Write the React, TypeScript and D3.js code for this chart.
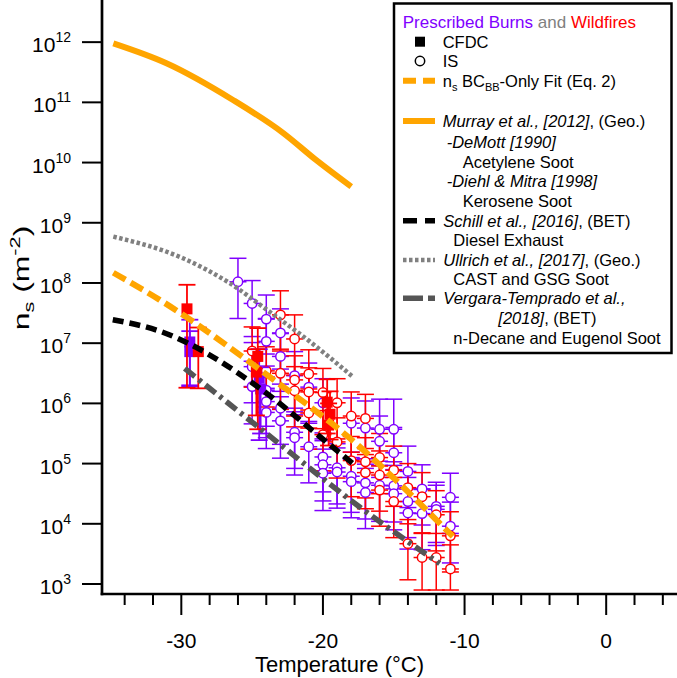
import React from 'react';
import * as d3 from 'd3';

const W = 677;
const H = 678;
const FONT = '"Liberation Sans", Arial, Helvetica, sans-serif';

const xDomain = [-35.6, 5];
const yDomainExp = [2.834, 12.7];

const xMajorTicks = [-30, -20, -10, 0];
const xMinorTicks = [-34, -32, -28, -26, -24, -22, -18, -16, -14, -12, -8, -6, -4, -2, 2, 4];
const yTickExponents = [3, 4, 5, 6, 7, 8, 9, 10, 11, 12];

// IS measurements: [T (°C), log10 ns, error up (decades), error down (decades)]
const isPurple: number[][] = [
  [-26, 8.02, 0.39, 0.61],
  [-25, 7.66, 0.38, 0.55], [-25, 6.61, 0.4, 0.6], [-25, 6.28, 0.42, 0.62],
  [-24, 7.4, 0.4, 0.58], [-24, 7.03, 0.38, 0.6], [-24, 6.22, 0.4, 0.6], [-24, 6.03, 0.41, 0.6], [-24, 5.85, 0.4, 0.6],
  [-23, 7.17, 0.4, 0.6], [-23, 6.78, 0.38, 0.58], [-23, 5.92, 0.4, 0.6], [-23, 5.71, 0.4, 0.62],
  [-22, 6.46, 0.4, 0.6], [-22, 5.52, 0.4, 0.6], [-22, 5.43, 0.38, 0.62],
  [-21, 6.27, 0.4, 0.6], [-21, 5.28, 0.42, 0.6],
  [-20, 6.01, 0.4, 0.6], [-20, 5.11, 0.4, 0.58], [-20, 4.98, 0.4, 0.6], [-20, 4.84, 0.4, 0.62],
  [-19, 4.93, 0.4, 0.6], [-19, 4.86, 0.4, 0.6],
  [-18, 5.67, 0.42, 0.6], [-18, 4.79, 0.4, 0.6], [-18, 4.7, 0.4, 0.6],
  [-17, 5.59, 0.45, 0.6], [-17, 4.68, 0.4, 0.6], [-17, 4.52, 0.4, 0.6],
  [-16, 5.57, 0.5, 0.6], [-16, 5.37, 0.42, 0.6], [-16, 4.64, 0.4, 0.6],
  [-15, 5.57, 0.5, 0.6], [-15, 5.18, 0.42, 0.6], [-15, 4.63, 0.4, 0.6], [-15, 4.5, 0.4, 0.6],
  [-14, 4.87, 0.42, 0.6], [-14, 4.37, 0.4, 0.6], [-14, 4.18, 0.4, 0.6],
  [-13, 4.58, 0.4, 0.6], [-13, 4.17, 0.4, 0.6],
  [-12, 4.29, 0.4, 0.6], [-12, 4.24, 0.4, 0.6],
  [-11, 4.44, 0.4, 0.6], [-11, 3.96, 0.4, 0.61],
];

const isRed: number[][] = [
  [-25, 6.87, 0.4, 0.6],
  [-24, 6.54, 0.4, 0.6],
  [-23, 7.47, 0.4, 0.6], [-23, 6.5, 0.4, 0.6],
  [-22, 7.07, 0.4, 0.6], [-22, 6.39, 0.4, 0.6], [-22, 6.21, 0.4, 0.6],
  [-21, 6.49, 0.4, 0.6], [-21, 6.19, 0.4, 0.6], [-21, 5.84, 0.4, 0.6],
  [-20, 6.18, 0.4, 0.6], [-20, 5.48, 0.4, 0.6],
  [-19, 6.01, 0.4, 0.6], [-19, 5.36, 0.4, 0.6],
  [-18, 5.79, 0.4, 0.6], [-18, 5.05, 0.4, 0.6],
  [-17, 5.75, 0.4, 0.6], [-17, 5.03, 0.4, 0.6], [-17, 4.85, 0.4, 0.6],
  [-16, 5.1, 0.4, 0.6], [-16, 4.81, 0.4, 0.6], [-16, 4.56, 0.4, 0.6],
  [-15, 4.89, 0.4, 0.6], [-15, 4.37, 0.4, 0.6],
  [-14, 4.6, 0.4, 0.6], [-14, 3.67, 0.4, 0.6],
  [-13, 4.45, 0.4, 0.6], [-13, 3.44, 0.4, 0.54],
  [-12, 4.15, 0.4, 0.6], [-12, 3.44, 0.4, 0.54],
  [-11, 3.8, 0.4, 0.6], [-11, 3.25, 0.4, 0.35],
];

// CFDC measurements: [T, log10 ns, log10 upper, log10 lower]
const cfdcRed: number[][] = [
  [-29.6, 7.57, 7.97, 6.26],
  [-28.8, 6.86, 7.26, 6.25],
  [-24.6, 6.78, 7.25, 5.57],
  [-24.7, 6.52, 6.9, 5.8],
  [-19.7, 6.02, 6.4, 5.5],
  [-19.5, 5.82, 6.2, 5.4],
  [-19.6, 5.64, 6.0, 5.3],
];
const cfdcPurple: number[][] = [
  [-29.4, 7.02, 7.39, 6.28],
  [-29.4, 6.86, 7.2, 6.3],
  [-24.5, 6.42, 6.9, 5.39],
  [-24.4, 6.24, 6.6, 5.5],
];

// Parameterisation curves: temperature and log10 ns
const murrayT = [-34.8, -31.05, -26.35, -22.8, -20.47, -18.0];
const murrayLog = [11.98, 11.65, 11.04, 10.49, 10.04, 9.6];
const fitT = [-34.8, -31.53, -23.76, -18.1, -10.83];
const fitLog = [8.17, 7.72, 6.44, 5.42, 3.79];
const schillT = [-34.84, -31.53, -23.99, -20.23, -17.88];
const schillLog = [7.39, 7.2, 6.17, 5.45, 5.0];
const ullrichT = [-34.8, -29.88, -26.6, -23.76, -20.94, -17.88];
const ullrichLog = [8.77, 8.41, 8.0, 7.52, 7.03, 6.44];
const vergaraT = [-29.76, -23.99, -17.41, -11.76];
const vergaraLog = [6.58, 5.5, 4.28, 3.34];

const PURPLE = '#8000ff';
const RED = '#ff0000';
const ORANGE = '#ffa500';
const GREY = '#808080';
const DARK = '#555555';

export default function App() {
  const left = 102, right = 677, top = 0, bottom = 594;
  const x = d3.scaleLinear().domain(xDomain).range([left, right]);
  const y = d3.scaleLog().domain([Math.pow(10, yDomainExp[0]), Math.pow(10, yDomainExp[1])]).range([bottom, top]);
  const yl = (l: number) => y(Math.pow(10, l));

  const line = d3.line<number[]>().x(d => x(d[0])).y(d => yl(d[1])).curve(d3.curveMonotoneX);
  const path = (ts: number[], ls: number[]) => line(ts.map((t, i) => [t, ls[i]])) || '';

  const cap = 8.5;
  const xErr = 0.6;

  const bars = (data: number[][], color: string, key: string) =>
    data.map((d, i) => {
      const cx = x(d[0]);
      const yTop = yl(d[1] + d[2]);
      const yBot = yl(d[1] - d[3]);
      const cy = yl(d[1]);
      return (
        <g key={key + i} stroke={color} strokeWidth={1.5}>
          <line x1={cx} x2={cx} y1={yTop} y2={yBot} />
          <line x1={cx - cap} x2={cx + cap} y1={yTop} y2={yTop} />
          <line x1={cx - cap} x2={cx + cap} y1={yBot} y2={yBot} />
          <line x1={x(d[0] - xErr)} x2={x(d[0] + xErr)} y1={cy} y2={cy} />
        </g>
      );
    });
  const circles = (data: number[][], color: string, key: string) =>
    data.map((d, i) => (
      <circle key={key + i} cx={x(d[0])} cy={yl(d[1])} r={4.7} fill="white" stroke={color} strokeWidth={1.5} />
    ));
  const cfdc = (data: number[][], color: string, key: string) =>
    data.map((d, i) => {
      const cx = x(d[0]);
      const yTop = yl(d[2]);
      const yBot = yl(d[3]);
      return (
        <g key={key + i}>
          <g stroke={color} strokeWidth={1.8}>
            <line x1={cx} x2={cx} y1={yTop} y2={yBot} />
            <line x1={cx - cap} x2={cx + cap} y1={yTop} y2={yTop} />
            <line x1={cx - cap} x2={cx + cap} y1={yBot} y2={yBot} />
          </g>
          <rect x={cx - 5.5} y={yl(d[1]) - 5.5} width={11} height={11} fill={color} />
        </g>
      );
    });

  const legX0 = 403, legX1 = 435, legText = 442.7;
  const legFont = 16.5;
  const rowY = (c: number) => c + 5.8;

  return (
    <svg width={W} height={H} style={{ display: 'block', position: 'absolute', left: 0, top: 0 }} fontFamily={FONT}>
      <rect x={0} y={0} width={W} height={H} fill="white" />
      <defs>
        <clipPath id="plot">
          <rect x={left} y={top} width={right - left} height={bottom - top} />
        </clipPath>
      </defs>

      <g clipPath="url(#plot)">
        {bars(isPurple, PURPLE, 'bp')}
        {bars(isRed, RED, 'br')}
        {circles(isPurple, PURPLE, 'cp')}
        {circles(isRed, RED, 'cr')}
        {cfdc(cfdcPurple, PURPLE, 'fp')}
        {cfdc(cfdcRed, RED, 'fr')}

        <path d={path(murrayT, murrayLog)} fill="none" stroke={ORANGE} strokeWidth={6} />
        <path d={path(ullrichT, ullrichLog)} fill="none" stroke={GREY} strokeWidth={4.5} strokeDasharray="3.5 2.5" />
        <path d={path(vergaraT, vergaraLog)} fill="none" stroke={DARK} strokeWidth={5.5} strokeDasharray="13 5 3.5 5" />
        <path d={path(schillT, schillLog)} fill="none" stroke="black" strokeWidth={5.5} strokeDasharray="11 6" />
        <path d={path(fitT, fitLog)} fill="none" stroke={ORANGE} strokeWidth={6} strokeDasharray="14 6" />
      </g>

      {/* axes */}
      <g stroke="black">
        <line x1={left} x2={left} y1={top} y2={bottom + 1.3} strokeWidth={2.7} />
        <line x1={left - 1.3} x2={right} y1={bottom} y2={bottom} strokeWidth={2.7} />
        {xMajorTicks.map(t => (
          <line key={'xM' + t} x1={x(t)} x2={x(t)} y1={bottom} y2={bottom + 21} strokeWidth={2} />
        ))}
        {xMinorTicks.map(t => (
          <line key={'xm' + t} x1={x(t)} x2={x(t)} y1={bottom} y2={bottom + 11} strokeWidth={2} />
        ))}
        {yTickExponents.map(e => (
          <line key={'y' + e} x1={left - 20} x2={left} y1={yl(e)} y2={yl(e)} strokeWidth={2} />
        ))}
      </g>
      {xMajorTicks.map(t => (
        <text key={'xl' + t} x={x(t)} y={648} textAnchor="middle" fontSize={21}>{t === 0 ? '0' : `-${Math.abs(t)}`}</text>
      ))}
      <text x={(left + right) / 2 - 50} y={672} textAnchor="middle" fontSize={22}>Temperature (°C)</text>
      {yTickExponents.map(e => (
        <text key={'yl' + e} x={71} y={yl(e) + 10} textAnchor="end" fontSize={21}>
          10<tspan dy={-10} fontSize={14}>{e}</tspan>
        </text>
      ))}
      <text transform="translate(29,278) rotate(-90) scale(1.45,1)" textAnchor="middle" fontSize={22}>
        n<tspan dy={5} fontSize={15}>s</tspan><tspan dy={-5}> (m</tspan><tspan dy={-9} fontSize={15}>-2</tspan><tspan dy={9}>)</tspan>
      </text>

      {/* legend */}
      <rect x={394} y={3.5} width={277.5} height={349.5} fill="white" stroke="black" strokeWidth={2.5} />
      <g fontSize={legFont}>
        <text x={402.7} y={rowY(21.7)} fontSize={17}>
          <tspan fill={PURPLE}>Prescribed Burns</tspan><tspan fill={GREY}> and </tspan><tspan fill={RED}>Wildfires</tspan>
        </text>
        <rect x={415} y={36.7} width={10} height={10} fill="black" />
        <text x={legText} y={rowY(41.7)}>CFDC</text>
        <circle cx={420} cy={61} r={4.7} fill="white" stroke="black" strokeWidth={1.5} />
        <text x={legText} y={rowY(61)}>IS</text>
        <line x1={legX0} x2={legX1} y1={80.7} y2={80.7} stroke={ORANGE} strokeWidth={6} strokeDasharray="13 7" />
        <text x={legText} y={rowY(80.7)}>
          n<tspan dy={4} fontSize={11}>s</tspan><tspan dy={-4}> BC</tspan><tspan dy={4} fontSize={11}>BB</tspan><tspan dy={-4}>-Only Fit (Eq. 2)</tspan>
        </text>

        <line x1={legX0} x2={legX1} y1={121} y2={121} stroke={ORANGE} strokeWidth={6} />
        <text x={legText} y={rowY(121)}>
          <tspan fontStyle="italic">Murray et al., [2012]</tspan>, (Geo.)
        </text>
        <text x={446.7} y={rowY(142.5)} fontStyle="italic">-DeMott [1990]</text>
        <text x={462.7} y={rowY(161.7)}>Acetylene Soot</text>
        <text x={446.7} y={rowY(181.2)} fontStyle="italic">-Diehl &amp; Mitra [1998]</text>
        <text x={462.7} y={rowY(200.7)}>Kerosene Soot</text>

        <line x1={legX0} x2={legX1} y1={220.7} y2={220.7} stroke="black" strokeWidth={5.5} strokeDasharray="14 8" />
        <text x={443.3} y={rowY(220.7)}>
          <tspan fontStyle="italic">Schill et al., [2016]</tspan>, (BET)
        </text>
        <text x={453.3} y={rowY(240)}>Diesel Exhaust</text>

        <line x1={legX0} x2={legX1} y1={260} y2={260} stroke={GREY} strokeWidth={4.5} strokeDasharray="3.5 2.5" />
        <text x={443.3} y={rowY(260)}>
          <tspan fontStyle="italic">Ullrich et al., [2017]</tspan>, (Geo.)
        </text>
        <text x={453.3} y={rowY(279.3)}>CAST and GSG Soot</text>

        <line x1={legX0} x2={legX1} y1={298.3} y2={298.3} stroke={DARK} strokeWidth={5.5} strokeDasharray="20 5 7 20" />
        <text x={443.3} y={rowY(298.3)} fontStyle="italic">Vergara-Temprado et al.,</text>
        <text x={498.3} y={rowY(318.3)}>
          <tspan fontStyle="italic">[2018]</tspan>, (BET)
        </text>
        <text x={453.3} y={rowY(338.3)}>n-Decane and Eugenol Soot</text>
      </g>
    </svg>
  );
}
